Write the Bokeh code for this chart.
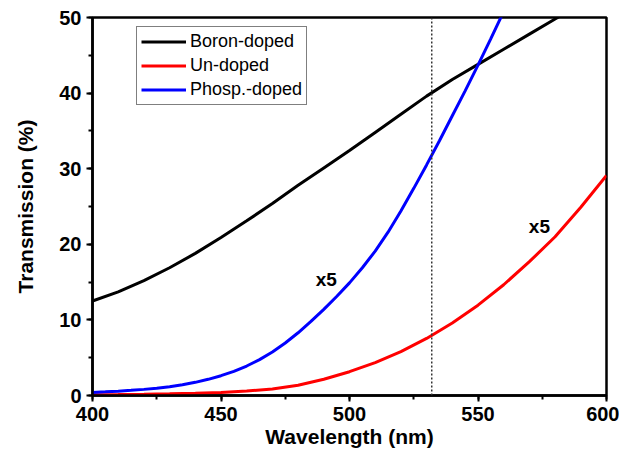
from bokeh.plotting import figure
from bokeh.models import Range1d, SingleIntervalTicker, Span, Legend, LegendItem
from bokeh.core.properties import value
from bokeh.embed import file_html
from bokeh.resources import INLINE

# ---- data ----
wavelength = [400, 410, 420, 430, 440, 450, 460, 470, 480, 490, 500,
              510, 520, 530, 540, 550, 560, 570, 580, 590, 600]
boron_doped = [12.5, 13.7, 15.2, 16.9, 18.8, 20.9, 23.1, 25.4, 27.8, 30.1, 32.4,
               34.8, 37.2, 39.6, 41.8, 43.8, 45.8, 47.8, 49.8, 51.8, 53.8]
un_doped = [0.10, 0.13, 0.17, 0.22, 0.29, 0.40, 0.58, 0.87, 1.35, 2.15, 3.15,
            4.35, 5.8, 7.55, 9.6, 11.95, 14.65, 17.7, 21.0, 24.9, 29.1]
phosp_wavelength = [400, 405, 410, 415, 420, 425, 430, 435, 440, 445, 450,
                    455, 460, 465, 470, 475, 480, 485, 490, 495, 500,
                    505, 510, 515, 520, 525, 530, 535, 540, 545, 550,
                    555, 560]
phosp_doped = [0.40, 0.48, 0.57, 0.68, 0.81, 0.97, 1.17, 1.42, 1.74, 2.14, 2.62,
               3.2, 3.9, 4.75, 5.75, 6.95, 8.3, 9.8, 11.4, 13.1, 14.9,
               16.9, 19.1, 21.6, 24.4, 27.4, 30.5, 33.7, 37.0, 40.3, 43.7,
               47.2, 50.8]
series_names = ["Boron-doped", "Un-doped", "Phosp.-doped"]
laser_wavelength = 532
label_x = [491.0, 573.9]
label_y = [15.4, 22.3]
label_text = ["x5", "x5"]
x_ticks_interval = 50
y_ticks_interval = 10

FONT = "Liberation Sans"

p = figure(width=619, height=453, output_backend="svg", toolbar_location=None,
           x_range=Range1d(400, 600), y_range=Range1d(0, 50),
           min_border_left=92, min_border_right=13, min_border_top=17,
           min_border_bottom=58)
p.background_fill_color = "white"
p.border_fill_color = "white"
p.xgrid.visible = False
p.ygrid.visible = False
p.outline_line_color = "black"
p.outline_line_width = 2.5
p.outline_line_alpha = 1.0

p.xaxis.ticker = SingleIntervalTicker(interval=x_ticks_interval, num_minor_ticks=2)
p.yaxis.ticker = SingleIntervalTicker(interval=y_ticks_interval, num_minor_ticks=2)

for ax in (p.xaxis[0], p.yaxis[0]):
    ax.axis_line_width = 2.5
    ax.axis_line_color = "black"
    ax.major_tick_line_width = 2
    ax.minor_tick_line_width = 2
    ax.major_tick_line_color = "black"
    ax.minor_tick_line_color = "black"
    ax.major_tick_in = 0
    ax.minor_tick_in = 0
    ax.major_tick_out = 6
    ax.minor_tick_out = 4
    ax.major_label_text_font = FONT
    ax.major_label_text_font_style = "bold"
    ax.major_label_text_font_size = "20px"
    ax.major_label_text_color = "black"
    ax.axis_label_text_font = FONT
    ax.axis_label_text_font_style = "bold"
    ax.axis_label_text_font_size = "21px"
    ax.axis_label_text_color = "black"

p.xaxis.axis_label = "Wavelength (nm)"
p.yaxis.axis_label = "Transmission (%)"
p.xaxis.major_label_standoff = 5
p.yaxis.major_label_standoff = 5
p.xaxis.axis_label_standoff = 1
p.yaxis.axis_label_standoff = 19

r_boron = p.line(wavelength, boron_doped, line_color="#000000", line_width=3)
r_un = p.line(wavelength, un_doped, line_color="#ff0000", line_width=3)
r_ph = p.line(phosp_wavelength, phosp_doped, line_color="#0000ff", line_width=3)

p.add_layout(Span(location=laser_wavelength, dimension="height", line_color="#333333",
                  line_dash="2 2", line_width=1.5))

p.text(x=label_x, y=label_y, text=label_text, text_align="center",
       text_baseline="middle", text_font=value(FONT), text_font_style="bold",
       text_font_size="19px", text_color="black")

legend = Legend(items=[LegendItem(label=series_names[0], renderers=[r_boron]),
                       LegendItem(label=series_names[1], renderers=[r_un]),
                       LegendItem(label=series_names[2], renderers=[r_ph])],
                location=(44, 290))
legend.label_text_font = FONT
legend.label_text_font_size = "18px"
legend.label_text_color = "black"
legend.glyph_width = 45
legend.glyph_height = 19
legend.label_height = 19
legend.label_standoff = 4
legend.spacing = 3
legend.padding = 4
legend.margin = 0
legend.border_line_color = "black"
legend.border_line_width = 1.5
legend.background_fill_color = "white"
legend.background_fill_alpha = 1.0
p.add_layout(legend)

open("out.html", "w").write(file_html(p, INLINE))
